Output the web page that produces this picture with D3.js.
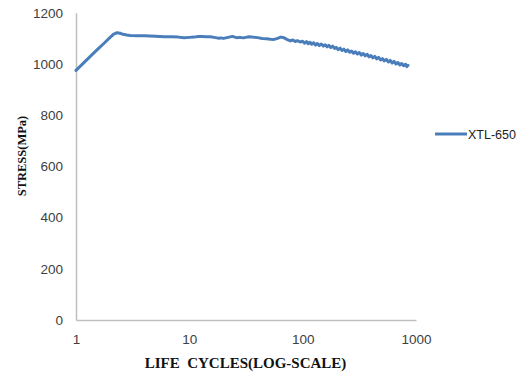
<!DOCTYPE html>
<html>
<head>
<meta charset="utf-8">
<script src="https://d3js.org/d3.v7.min.js"></script>
<style>
  html, body { margin: 0; padding: 0; background: #fff; }
  svg { display: block; }
</style>
</head>
<body>
<div id="chart"></div>
<script>
// Life cycles (log scale) and measured stress for XTL-650
const cycles = [1, 1.25, 1.5, 1.75, 2, 2.15, 2.3, 2.45, 2.6, 2.8, 3, 3.5, 4, 5, 6, 7, 8, 9, 10,
  11, 12, 13, 14, 15, 16, 17, 18, 19, 20, 22, 24, 26, 28, 30, 33, 36, 40, 44, 48, 52, 56, 60,
  64, 67, 70, 74, 78, 82, 86, 90, 95,
  100, 104, 108, 112, 116, 120, 125, 130, 135, 140, 146, 152, 158, 164, 170, 177, 184, 191,
  198, 206, 214, 222, 231, 240, 250, 260, 270, 281, 292, 304, 316, 329, 342, 356, 370, 385,
  400, 416, 433, 450, 468, 487, 506, 526, 547, 569, 592, 616, 640, 666, 692, 720, 748, 778,
  809, 830, 850];
const stress = [975, 1017, 1051, 1079, 1104, 1117, 1122, 1120, 1116, 1113, 1111, 1110, 1110,
  1108, 1106, 1106, 1105, 1103, 1104, 1105, 1107, 1107, 1106, 1106, 1105, 1103, 1101, 1102,
  1100, 1104, 1108, 1103, 1104, 1102, 1106, 1105, 1103, 1100, 1099, 1097, 1096, 1100,
  1105, 1104, 1100, 1094, 1090, 1094, 1088, 1091, 1086,
  1089, 1081, 1088, 1079, 1085, 1077, 1083, 1074, 1080, 1072, 1078, 1070, 1075, 1067, 1073,
  1064, 1070, 1061, 1065, 1056, 1062, 1053, 1058, 1049, 1055, 1046, 1051, 1042, 1048, 1039,
  1045, 1035, 1041, 1032, 1038, 1028, 1033, 1024, 1030, 1020, 1026, 1016, 1021, 1012, 1018,
  1008, 1014, 1004, 1010, 1000, 1006, 996, 1002, 993, 999, 990, 995];
const seriesName = "XTL-650";
const xTicks = [1, 10, 100, 1000];
const yTicks = [0, 200, 400, 600, 800, 1000, 1200];

const W = 517, H = 372;
const svg = d3.select("#chart").append("svg").attr("width", W).attr("height", H)
  .style("background", "#fff");

const x = d3.scaleLog().domain([1, 1000]).range([76, 416]);
const y = d3.scaleLinear().domain([0, 1200]).range([320, 12.8]);

const axisColor = "#bfbfbf";
const tickFont = "'Liberation Sans', Arial, sans-serif";

// x axis
const gx = svg.append("g").attr("transform", `translate(0,${y(0)})`)
  .call(d3.axisBottom(x).tickValues(xTicks).tickFormat(d3.format("d"))
    .tickSize(0).tickPadding(14));
gx.select(".domain").attr("stroke", axisColor).attr("stroke-width", 1.5);
gx.selectAll("text").attr("font-family", tickFont).attr("font-size", 13.5).attr("fill", "#404040");

// y axis
const gy = svg.append("g").attr("transform", `translate(${x(1)},0)`)
  .call(d3.axisLeft(y).tickValues(yTicks).tickFormat(d3.format("d"))
    .tickSize(0).tickPadding(13));
gy.select(".domain").attr("stroke", axisColor).attr("stroke-width", 1.5);
gy.selectAll("text").attr("font-family", tickFont).attr("font-size", 13.5).attr("fill", "#404040");

// axis titles
svg.append("text")
  .attr("x", 245.5).attr("y", 368)
  .attr("text-anchor", "middle")
  .attr("font-family", "'Liberation Serif', 'Times New Roman', serif")
  .attr("font-weight", "bold").attr("font-size", 15)
  .attr("fill", "#111")
  .style("white-space", "pre")
  .text("LIFE  CYCLES(LOG-SCALE)");

svg.append("text")
  .attr("transform", "translate(26,156) rotate(-90)")
  .attr("text-anchor", "middle")
  .attr("font-family", "'Liberation Serif', 'Times New Roman', serif")
  .attr("font-weight", "bold").attr("font-size", 12.5)
  .attr("fill", "#111")
  .text("STRESS(MPa)");

// data line
const pts = cycles.map((c, i) => [c, stress[i]]);
const lineColor = "#4a7ebb";
svg.append("path")
  .datum(pts)
  .attr("fill", "none")
  .attr("stroke", lineColor)
  .attr("stroke-width", 3)
  .attr("stroke-linejoin", "round")
  .attr("stroke-linecap", "round")
  .attr("d", d3.line().x(d => x(d[0])).y(d => y(d[1])));

// legend
const lg = svg.append("g");
lg.append("line").attr("x1", 435).attr("x2", 467).attr("y1", 134).attr("y2", 134)
  .attr("stroke", lineColor).attr("stroke-width", 3);
lg.append("text").attr("x", 468).attr("y", 138.5)
  .attr("font-family", tickFont).attr("font-size", 12.5).attr("fill", "#222")
  .text(seriesName);
</script>
</body>
</html>
